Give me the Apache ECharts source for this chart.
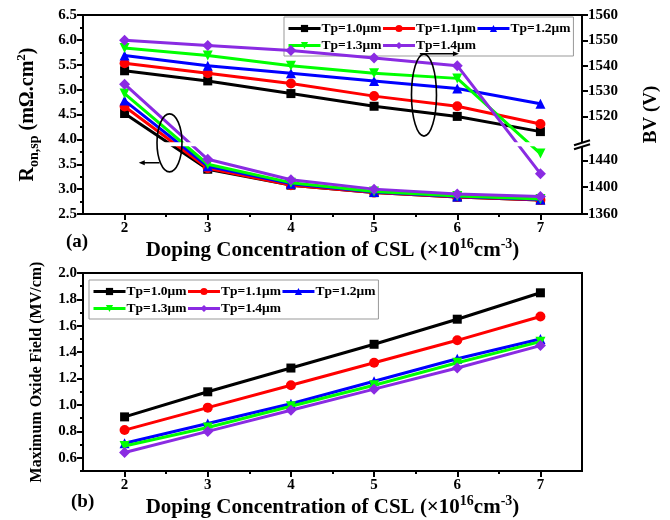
<!DOCTYPE html>
<html>
<head>
<meta charset="utf-8">
<script src="https://cdn.jsdelivr.net/npm/echarts@6/dist/echarts.min.js"></script>
<style>
  html, body { margin: 0; padding: 0; background: #fff; }
  #chart { width: 670px; height: 520px; }
</style>
</head>
<body>
<div id="chart"></div>
<script>
// CSL doping concentration (×10^16 cm^-3)
const dopingX = [2, 3, 4, 5, 6, 7];
const tpNames = ['Tp=1.0μm', 'Tp=1.1μm', 'Tp=1.2μm', 'Tp=1.3μm', 'Tp=1.4μm'];

// Specific on-resistance R_on,sp (mΩ·cm²)
const ronTp10 = [4.52, 3.40, 3.08, 2.93, 2.84, 2.78];
const ronTp11 = [4.66, 3.42, 3.08, 2.93, 2.84, 2.78];
const ronTp12 = [4.78, 3.46, 3.11, 2.94, 2.85, 2.79];
const ronTp13 = [4.92, 3.50, 3.13, 2.95, 2.86, 2.80];
const ronTp14 = [5.11, 3.60, 3.19, 3.00, 2.90, 2.85];

// Breakdown voltage BV (V)
const bvTp10 = [1538, 1534, 1529, 1524, 1520, 1514];
const bvTp11 = [1541, 1537, 1533, 1528, 1524, 1517];
const bvTp12 = [1544, 1540, 1537, 1534, 1531, 1525];
const bvTp13 = [1547, 1544, 1540, 1537, 1535, 1450];
const bvTp14 = [1550, 1548, 1546, 1543, 1540, 1420];

// Maximum oxide field (MV/cm)
const fieldTp10 = [0.91, 1.10, 1.28, 1.46, 1.65, 1.85];
const fieldTp11 = [0.81, 0.98, 1.15, 1.32, 1.49, 1.67];
const fieldTp12 = [0.71, 0.86, 1.01, 1.18, 1.35, 1.50];
const fieldTp13 = [0.69, 0.83, 0.99, 1.15, 1.32, 1.48];
const fieldTp14 = [0.64, 0.80, 0.96, 1.12, 1.28, 1.45];

// Tick labels
const dopingTicks = [2, 3, 4, 5, 6, 7];
const dopingMinorTicks = [2.5, 3.5, 4.5, 5.5, 6.5];
const bvTicks = [1360, 1400, 1440, 1520, 1530, 1540, 1550, 1560];
const fieldTicks = [0.6, 0.8, 1.0, 1.2, 1.4, 1.6, 1.8, 2.0];
const fieldMinorTicks = [0.5, 0.7, 0.9, 1.1, 1.3, 1.5, 1.7, 1.9];

const ronSets = [ronTp10, ronTp11, ronTp12, ronTp13, ronTp14];
const bvSets = [bvTp10, bvTp11, bvTp12, bvTp13, bvTp14];
const fieldSets = [fieldTp10, fieldTp11, fieldTp12, fieldTp13, fieldTp14];

const seriesLook = [
  { color: '#000000', symbol: 'rect', size: 9 },
  { color: '#ff0000', symbol: 'circle', size: 10 },
  { color: '#0000ff', symbol: 'triangle', size: 10 },
  { color: '#00ff00', symbol: 'path://M0,0L10,0L5,9Z', size: 10 },
  { color: '#8a2be2', symbol: 'diamond', size: 11 }
];

// Broken BV axis: the upper part (>=1500 V) keeps 1 unit per volt,
// the lower part (1360-1460 V) is compressed onto the space below the break.
const BV_AXIS_MIN = 1481.5;
const BV_LOWER_SCALE = 0.265;
const BV_BREAK_AT = 1509;
function bvToAxis(bv) {
  return bv >= 1500 ? bv : BV_AXIS_MIN + (bv - 1360) * BV_LOWER_SCALE;
}
function axisToBv(t) {
  return t >= BV_BREAK_AT ? t : 1360 + (t - BV_AXIS_MIN) / BV_LOWER_SCALE;
}

const FONT = 'Liberation Serif';
const tickFont = { fontFamily: FONT, fontWeight: 'bold', fontSize: 15, color: '#000' };
const axisLineStyle = { show: true, lineStyle: { color: '#000', width: 2 } };
const tickStyle = { color: '#000', width: 2 };

function xTitle() {
  return {
    name: '{b|Doping Concentration of CSL (×10}{sup|16}{b|cm}{sup|-3}{b|)}',
    nameLocation: 'middle',
    nameGap: 20,
    nameTextStyle: {
      fontFamily: FONT, fontWeight: 'bold', fontSize: 21, color: '#000',
      rich: {
        b: { fontFamily: FONT, fontWeight: 'bold', fontSize: 21, lineHeight: 28, color: '#000' },
        sup: { fontFamily: FONT, fontWeight: 'bold', fontSize: 14, lineHeight: 14, verticalAlign: 'top', color: '#000' }
      }
    }
  };
}

function mainX(gridIndex) {
  return Object.assign({
    gridIndex, type: 'value', min: 1.5, max: 7.5, position: 'bottom',
    axisLine: axisLineStyle,
    axisTick: { show: true, length: 6, lineStyle: tickStyle, customValues: dopingTicks },
    axisLabel: Object.assign({ customValues: dopingTicks, margin: 7, formatter: v => String(Math.round(v)) }, tickFont),
    splitLine: { show: false }
  }, xTitle());
}
function minorX(gridIndex) {
  return {
    gridIndex, type: 'value', min: 1.5, max: 7.5, position: 'bottom',
    axisLine: { show: false },
    axisTick: { show: true, length: 3, lineStyle: tickStyle, customValues: dopingMinorTicks },
    axisLabel: { show: false },
    splitLine: { show: false }
  };
}

const series = [];
for (let i = 0; i < 5; i++) {
  const look = seriesLook[i];
  const common = {
    type: 'line', name: tpNames[i], symbol: look.symbol, symbolSize: look.size,
    itemStyle: { color: look.color }, lineStyle: { color: look.color, width: 3 },
    emphasis: { disabled: true }, z: 3 + i
  };
  series.push(Object.assign({}, common, {
    xAxisIndex: 0, yAxisIndex: 0,
    data: dopingX.map((x, k) => [x, ronSets[i][k]])
  }));
  series.push(Object.assign({}, common, {
    xAxisIndex: 0, yAxisIndex: 1,
    data: dopingX.map((x, k) => [x, bvToAxis(bvSets[i][k])])
  }));
  series.push(Object.assign({}, common, {
    xAxisIndex: 2, yAxisIndex: 2,
    data: dopingX.map((x, k) => [x, fieldSets[i][k]])
  }));
}

const legendCommon = {
  orient: 'horizontal', itemGap: 0, itemWidth: 32, itemHeight: 9,
  padding: [3, 3, 2, 3], borderColor: '#999', borderWidth: 1, backgroundColor: '#fff',
  lineStyle: { width: 3 },
  textStyle: { fontFamily: FONT, fontWeight: 'bold', fontSize: 13.5, lineHeight: 17, color: '#000', padding: [0, 0, 0, -4] },
  selectedMode: false, data: tpNames
};

const chart = echarts.init(document.getElementById('chart'), null, { renderer: 'canvas' });
chart.setOption({
  animation: false,
  backgroundColor: '#fff',
  grid: [
    { left: 83, top: 15, width: 499, height: 199, show: true, borderColor: '#000', borderWidth: 2, backgroundColor: 'transparent' },
    { left: 83, top: 273, width: 499, height: 198, show: true, borderColor: '#000', borderWidth: 2, backgroundColor: 'transparent' }
  ],
  legend: [
    Object.assign({ left: 284, top: 17, width: 300 }, legendCommon),
    Object.assign({ left: 89, top: 280, width: 300 }, legendCommon)
  ],
  xAxis: [mainX(0), minorX(0), mainX(1), minorX(1)],
  yAxis: [
    {
      gridIndex: 0, type: 'value', min: 2.5, max: 6.5, interval: 0.5, position: 'left',
      axisLine: axisLineStyle,
      axisTick: { show: true, length: 6, lineStyle: tickStyle },
      minorTick: { show: true, splitNumber: 2, length: 3, lineStyle: tickStyle },
      axisLabel: Object.assign({ margin: 6, formatter: v => v.toFixed(1) }, tickFont),
      splitLine: { show: false },
      name: '{b|R}{sub|on,sp}{b| (mΩ.cm}{sup|2}{b|)}',
      nameLocation: 'middle', nameGap: 42,
      nameTextStyle: {
        fontFamily: FONT, fontWeight: 'bold', fontSize: 20, color: '#000',
        rich: {
          b: { fontFamily: FONT, fontWeight: 'bold', fontSize: 20, lineHeight: 26, color: '#000' },
          sub: { fontFamily: FONT, fontWeight: 'bold', fontSize: 14, lineHeight: 14, verticalAlign: 'bottom', color: '#000' },
          sup: { fontFamily: FONT, fontWeight: 'bold', fontSize: 13, lineHeight: 13, verticalAlign: 'top', color: '#000' }
        }
      }
    },
    {
      gridIndex: 0, type: 'value', min: BV_AXIS_MIN, max: 1560, position: 'right',
      axisLine: axisLineStyle,
      axisTick: { show: true, length: 6, lineStyle: tickStyle, customValues: bvTicks.map(bvToAxis) },
      axisLabel: Object.assign({
        margin: 6, customValues: bvTicks.map(bvToAxis),
        formatter: v => String(Math.round(axisToBv(v)))
      }, tickFont),
      splitLine: { show: false },
      name: 'BV (V)', nameLocation: 'middle', nameGap: 60,
      nameTextStyle: { fontFamily: FONT, fontWeight: 'bold', fontSize: 19, color: '#000' }
    },
    {
      gridIndex: 1, type: 'value', min: 0.5, max: 2.0, position: 'left',
      axisLine: axisLineStyle,
      axisTick: { show: true, length: 6, lineStyle: tickStyle, customValues: fieldTicks },
      axisLabel: Object.assign({ margin: 6, customValues: fieldTicks, formatter: v => v.toFixed(1) }, tickFont),
      splitLine: { show: false },
      name: 'Maximum Oxide Field (MV/cm)', nameLocation: 'middle', nameGap: 38,
      nameTextStyle: { fontFamily: FONT, fontWeight: 'bold', fontSize: 16, color: '#000' }
    },
    {
      gridIndex: 1, type: 'value', min: 0.5, max: 2.0, position: 'left',
      axisLine: { show: false },
      axisTick: { show: true, length: 3, lineStyle: tickStyle, customValues: fieldMinorTicks },
      axisLabel: { show: false },
      splitLine: { show: false }
    }
  ],
  series
});

// Annotations placed through the axes of the upper panel
function px(x, y) { return chart.convertToPixel({ xAxisIndex: 0, yAxisIndex: 0 }, [x, y]); }
function pxBv(t) { return chart.convertToPixel({ xAxisIndex: 0, yAxisIndex: 1 }, [7.5, t]); }

const ronOval = px(2.54, 3.93);
const ronArrowFrom = px(2.42, 3.53);
const ronArrowTo = px(2.17, 3.53);
const bvOval = px(5.6, 4.89);
const bvArrowFrom = px(5.55, 5.72);
const bvArrowTo = px(6.02, 5.72);
const breakPt = pxBv(BV_BREAK_AT);
const gridLeft = px(1.5, 2.5)[0];
const gridRight = breakPt[0];

const ink = { stroke: '#000', lineWidth: 1.6, fill: null };
chart.setOption({
  graphic: [
    // white band where the BV axis is broken
    { type: 'rect', z: 50, silent: true,
      shape: { x: gridLeft + 2, y: breakPt[1] - 2, width: gridRight - gridLeft - 3, height: 4 },
      style: { fill: '#fff' } },
    { type: 'rect', z: 51, silent: true,
      shape: { x: breakPt[0] - 3, y: breakPt[1] - 2, width: 6, height: 4 },
      style: { fill: '#fff' } },
    { type: 'line', z: 52, silent: true,
      shape: { x1: breakPt[0] - 8, y1: breakPt[1] + 1, x2: breakPt[0] + 8, y2: breakPt[1] - 4 },
      style: { stroke: '#000', lineWidth: 2 } },
    { type: 'line', z: 52, silent: true,
      shape: { x1: breakPt[0] - 8, y1: breakPt[1] + 5, x2: breakPt[0] + 8, y2: breakPt[1] },
      style: { stroke: '#000', lineWidth: 2 } },
    // R_on,sp group marker (points to the left axis)
    { type: 'ellipse', z: 60, silent: true,
      shape: { cx: ronOval[0], cy: ronOval[1], rx: 12.5, ry: 29 }, style: ink },
    { type: 'line', z: 60, silent: true,
      shape: { x1: ronArrowFrom[0], y1: ronArrowFrom[1], x2: ronArrowTo[0] + 3, y2: ronArrowTo[1] },
      style: { stroke: '#000', lineWidth: 1.5 } },
    { type: 'polygon', z: 60, silent: true,
      shape: { points: [[ronArrowTo[0], ronArrowTo[1]], [ronArrowTo[0] + 6, ronArrowTo[1] - 2.5], [ronArrowTo[0] + 6, ronArrowTo[1] + 2.5]] },
      style: { fill: '#000' } },
    // BV group marker (points to the right axis)
    { type: 'ellipse', z: 60, silent: true,
      shape: { cx: bvOval[0], cy: bvOval[1], rx: 12.5, ry: 41 }, style: ink },
    { type: 'line', z: 60, silent: true,
      shape: { x1: bvArrowFrom[0], y1: bvArrowFrom[1], x2: bvArrowTo[0] - 3, y2: bvArrowTo[1] },
      style: { stroke: '#000', lineWidth: 1.5 } },
    { type: 'polygon', z: 60, silent: true,
      shape: { points: [[bvArrowTo[0], bvArrowTo[1]], [bvArrowTo[0] - 6, bvArrowTo[1] - 2.5], [bvArrowTo[0] - 6, bvArrowTo[1] + 2.5]] },
      style: { fill: '#000' } },
    // panel tags
    { type: 'text', left: 66, top: 233, silent: true,
      style: { text: '(a)', fontFamily: FONT, fontWeight: 'bold', fontSize: 19, fill: '#000' } },
    { type: 'text', left: 71, top: 493, silent: true,
      style: { text: '(b)', fontFamily: FONT, fontWeight: 'bold', fontSize: 19, fill: '#000' } }
  ]
});
</script>
</body>
</html>
